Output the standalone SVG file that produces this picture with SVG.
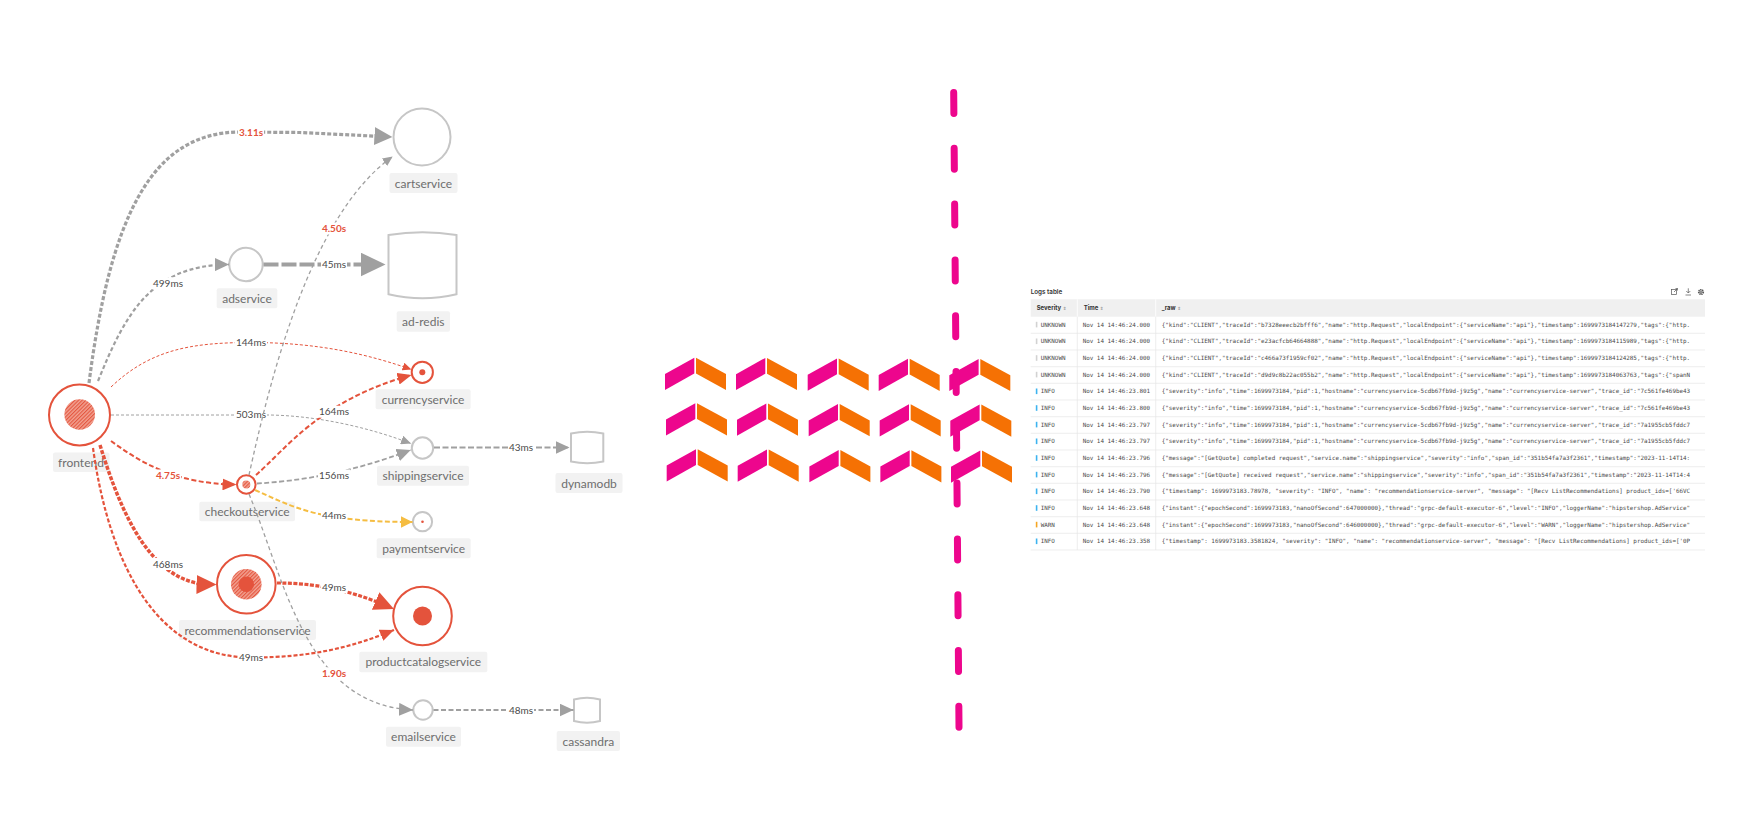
<svg xmlns="http://www.w3.org/2000/svg" width="1754" height="818" viewBox="0 0 1754 818">
<style>
.nl{font-family:Lato,"Liberation Sans",sans-serif;font-size:12px;fill:#6e6e6e;text-anchor:middle}
.nb{fill:#f2f2f2}
.gc{fill:#fff;stroke:#c6c6c6;stroke-width:2}
.rc{fill:#fff;stroke:#e4533c;stroke-width:2}
.el{font-family:Lato,"Liberation Sans",sans-serif;font-size:10px;fill:#4a4a4a;text-anchor:middle}
.er{fill:#e4533c;font-weight:700}
.lb{fill:#fff}
.e{fill:none}
.g{stroke:#a0a0a0}
.r{stroke:#e4533c}
.y{stroke:#f5bd42}
.mono{font-family:"DejaVu Sans Mono","Liberation Mono",monospace;font-size:5.9px;fill:#4a4a4a}
.hd{font-family:Inter,"Liberation Sans",sans-serif;font-size:6px;font-weight:700;fill:#333}
.srt{font-family:"DejaVu Sans",sans-serif;font-size:4.5px;fill:#999}
.rl{stroke:#e6e6e6;stroke-width:0.7}
.chm{fill:#ED068D}
.cho{fill:#F57104}
</style>
<defs>
<pattern id="hatch" width="2.6" height="2.6" patternUnits="userSpaceOnUse" patternTransform="rotate(45)">
<rect width="2.6" height="2.6" fill="#f2a393"/>
<line x1="0.6" y1="0" x2="0.6" y2="2.6" stroke="#e4533c" stroke-width="1.1"/>
</pattern>
<marker id="mGs" viewBox="0 0 10 10" refX="10" refY="5" markerWidth="10" markerHeight="9" markerUnits="userSpaceOnUse" orient="auto" preserveAspectRatio="none"><path d="M0,0L10,5L0,10Z" fill="#a0a0a0"/></marker>
<marker id="mGm" viewBox="0 0 10 10" refX="10" refY="5" markerWidth="14" markerHeight="13" markerUnits="userSpaceOnUse" orient="auto" preserveAspectRatio="none"><path d="M0,0L10,5L0,10Z" fill="#a0a0a0"/></marker>
<marker id="mGl" viewBox="0 0 10 10" refX="7" refY="5" markerWidth="18" markerHeight="18" markerUnits="userSpaceOnUse" orient="auto" preserveAspectRatio="none"><path d="M0,0L10,5L0,10Z" fill="#a0a0a0"/></marker>
<marker id="mGx" viewBox="0 0 10 10" refX="7" refY="5" markerWidth="25" markerHeight="24" markerUnits="userSpaceOnUse" orient="auto" preserveAspectRatio="none"><path d="M0,0L10,5L0,10Z" fill="#a0a0a0"/></marker>
<marker id="mRs" viewBox="0 0 10 10" refX="10" refY="5" markerWidth="9" markerHeight="8" markerUnits="userSpaceOnUse" orient="auto" preserveAspectRatio="none"><path d="M0,0L10,5L0,10Z" fill="#e4533c"/></marker>
<marker id="mRm" viewBox="0 0 10 10" refX="10" refY="5" markerWidth="14" markerHeight="12" markerUnits="userSpaceOnUse" orient="auto" preserveAspectRatio="none"><path d="M0,0L10,5L0,10Z" fill="#e4533c"/></marker>
<marker id="mRl" viewBox="0 0 10 10" refX="7" refY="5" markerWidth="20" markerHeight="19" markerUnits="userSpaceOnUse" orient="auto" preserveAspectRatio="none"><path d="M0,0L10,5L0,10Z" fill="#e4533c"/></marker>
<marker id="mYm" viewBox="0 0 10 10" refX="10" refY="5" markerWidth="12" markerHeight="12" markerUnits="userSpaceOnUse" orient="auto" preserveAspectRatio="none"><path d="M0,0L10,5L0,10Z" fill="#f5bd42"/></marker>
<clipPath id="rawclip"><rect x="1156" y="316" width="549" height="235"/></clipPath>
<path id="chev" d="M0,16.3 L29.3,0 L29.3,15.8 L0,32.2 Z"/>
</defs>

<!-- nodes -->
<g id="node-frontend">
<rect class="nb" x="53" y="452.5" width="56.5" height="19.5" rx="2"/>
<circle class="rc" cx="79.5" cy="415" r="30.5"/>
<circle cx="79.7" cy="414.5" r="15.3" fill="url(#hatch)"/>
<text class="nl" x="81" y="466.5">frontend</text>
</g>
<g id="node-cartservice">
<rect class="nb" x="389.5" y="173" width="68" height="20" rx="2"/>
<circle class="gc" cx="422" cy="137" r="28.5"/>
<text class="nl" x="423.5" y="187.5">cartservice</text>
</g>
<g id="node-adservice">
<rect class="nb" x="216.7" y="288.3" width="60.6" height="20" rx="2"/>
<circle class="gc" cx="246" cy="264.5" r="16.7"/>
<text class="nl" x="247" y="302.8">adservice</text>
</g>
<g id="node-ad-redis">
<rect class="nb" x="396.7" y="311.3" width="53.3" height="20.4" rx="2"/>
<path class="gc" d="M388.5,235 Q422.5,229.6 456.5,235 L456.5,294.3 Q422.5,302.3 388.5,294.3 Z"/>
<text class="nl" x="423.3" y="325.8">ad-redis</text>
</g>
<g id="node-currencyservice">
<rect class="nb" x="375.6" y="389.3" width="95" height="20" rx="2"/>
<circle class="rc" cx="422.3" cy="372.3" r="10.6"/>
<circle cx="422.3" cy="372.3" r="3" fill="#e4533c"/>
<text class="nl" x="423" y="403.8">currencyservice</text>
</g>
<g id="node-shippingservice">
<rect class="nb" x="377" y="465.7" width="92" height="20" rx="2"/>
<circle class="gc" cx="422.5" cy="448" r="10.7"/>
<text class="nl" x="423" y="480.2">shippingservice</text>
</g>
<g id="node-dynamodb">
<rect class="nb" x="555.5" y="473" width="67" height="20" rx="2"/>
<path class="gc" d="M571,433.5 Q587.2,430 603.3,433.5 L603.3,461.5 Q587.2,465 571,461.5 Z"/>
<text class="nl" x="589" y="487.5">dynamodb</text>
</g>
<g id="node-checkoutservice">
<rect class="nb" x="199.3" y="501.7" width="95.7" height="19.5" rx="2"/>
<circle class="rc" cx="246.3" cy="484.5" r="9.3"/>
<circle cx="246.3" cy="484.5" r="4" fill="url(#hatch)"/>
<text class="nl" x="247.2" y="516">checkoutservice</text>
</g>
<g id="node-paymentservice">
<rect class="nb" x="376.7" y="538.3" width="94" height="20" rx="2"/>
<circle class="gc" cx="422.5" cy="521.7" r="9.6"/>
<circle cx="422.5" cy="521.7" r="1.3" fill="#e4533c"/>
<text class="nl" x="423.7" y="552.8">paymentservice</text>
</g>
<g id="node-recommendationservice">
<rect class="nb" x="179" y="620" width="137" height="20" rx="2"/>
<circle class="rc" cx="246.3" cy="584.2" r="29.3"/>
<circle cx="246.3" cy="584.2" r="15.3" fill="url(#hatch)"/>
<circle cx="246.3" cy="584.2" r="7.7" fill="#e4533c"/>
<text class="nl" x="247.5" y="634.5">recommendationservice</text>
</g>
<g id="node-productcatalogservice">
<rect class="nb" x="359.3" y="651.7" width="128" height="20.6" rx="2"/>
<circle class="rc" cx="422.5" cy="616" r="29.3"/>
<circle cx="422.5" cy="616" r="9.5" fill="#e4533c"/>
<text class="nl" x="423.3" y="666.3">productcatalogservice</text>
</g>
<g id="node-emailservice">
<rect class="nb" x="386" y="726.7" width="75" height="20" rx="2"/>
<circle class="gc" cx="423" cy="710" r="9.7"/>
<text class="nl" x="423.5" y="741.2">emailservice</text>
</g>
<g id="node-cassandra">
<rect class="nb" x="556.7" y="731" width="63.3" height="20" rx="2"/>
<path class="gc" d="M574,699.5 Q587,696 600,699.5 L600,721 Q587,724.5 574,721 Z"/>
<text class="nl" x="588.3" y="745.5">cassandra</text>
</g>

<!-- connectors -->
<g id="connectors">
<g id="e-frontend-shipping">
<path class="e g" d="M111,415 L270,415 C320,416 370,428 411,443.5" stroke-width="1" stroke-dasharray="3 2" marker-end="url(#mGs)"/>
<rect class="lb" x="235" y="408.5" width="32" height="12"/><text class="el" x="251" y="418">503ms</text>
</g>
<g id="e-frontend-currency">
<path class="e r" d="M111,387 C150,350 190,342.5 251,342.5 C320,342.5 370,355 411.5,369.5" stroke-width="1" stroke-dasharray="3 2" marker-end="url(#mRs)"/>
<rect class="lb" x="235" y="336.7" width="32" height="12"/><text class="el" x="251" y="346.2">144ms</text>
</g>
<g id="e-frontend-cart">
<path class="e g" d="M89,383 C110,220 150,132 240,132 L300,132.5 L387,136.7" stroke-width="3.2" stroke-dasharray="4 2" marker-end="url(#mGl)"/>
<rect class="lb" x="238" y="126.3" width="26" height="12"/><text class="el er" x="251" y="135.8">3.11s</text>
</g>
<g id="e-frontend-adservice">
<path class="e g" d="M98,381 C125,315 150,265 229,264.5" stroke-width="2.2" stroke-dasharray="4 2.5" marker-end="url(#mGm)"/>
<rect class="lb" x="152" y="277.3" width="32" height="12"/><text class="el" x="168" y="286.8">499ms</text>
</g>
<g id="e-adservice-adredis">
<path class="e g" d="M263.5,264.5 L378,264.5" stroke-width="4" stroke-dasharray="15 3" marker-end="url(#mGx)"/>
<rect class="lb" x="321" y="258.5" width="26" height="12"/><text class="el" x="334" y="268">45ms</text>
</g>
<g id="e-checkout-cart">
<path class="e g" d="M249,475 C270,380 310,215 392.7,156.5" stroke-width="1.3" stroke-dasharray="4 3" marker-end="url(#mGs)"/>
<rect class="lb" x="321" y="222.5" width="26" height="12"/><text class="el er" x="334" y="232">4.50s</text>
</g>
<g id="e-checkout-currency">
<path class="e r" d="M256,475 C285,450 320,400 411.5,375" stroke-width="2" stroke-dasharray="5 2.5" marker-end="url(#mRm)"/>
<rect class="lb" x="318" y="405.7" width="32" height="12"/><text class="el" x="334" y="415.2">164ms</text>
</g>
<g id="e-checkout-shipping">
<path class="e g" d="M257,483.5 C300,481 350,473 410.7,450" stroke-width="1.8" stroke-dasharray="5 2.5" marker-end="url(#mGm)"/>
<rect class="lb" x="318" y="469.5" width="32" height="12"/><text class="el" x="334" y="479">156ms</text>
</g>
<g id="e-frontend-checkout">
<path class="e r" d="M111,441 C140,462 175,484 236.5,484.5" stroke-width="2" stroke-dasharray="5 2.5" marker-end="url(#mRm)"/>
<rect class="lb" x="155" y="469.5" width="26" height="12"/><text class="el er" x="168" y="479">4.75s</text>
</g>
<g id="e-checkout-payment">
<path class="e y" d="M255,490 C295,508 320,522 412.5,522" stroke-width="2" stroke-dasharray="5 2.5" marker-end="url(#mYm)"/>
<rect class="lb" x="321" y="509.5" width="26" height="12"/><text class="el" x="334" y="519">44ms</text>
</g>
<g id="e-frontend-productcatalog">
<path class="e r" d="M93,448 C110,570 160,657.5 251,657.5 C310,657.5 350,648 394,630" stroke-width="2.2" stroke-dasharray="4 2" marker-end="url(#mRm)"/>
<rect class="lb" x="238" y="651.5" width="26" height="12"/><text class="el" x="251" y="661">49ms</text>
</g>
<g id="e-frontend-recommendation">
<path class="e r" d="M100,445 C120,510 150,584 210.5,584.5" stroke-width="3.5" stroke-dasharray="4 1.5" marker-end="url(#mRl)"/>
<rect class="lb" x="152" y="558" width="32" height="12"/><text class="el" x="168" y="567.5">468ms</text>
</g>
<g id="e-recommendation-productcatalog">
<path class="e r" d="M277,583 C310,583 345,588 388.5,606.6" stroke-width="3.2" stroke-dasharray="4 1.5" marker-end="url(#mRl)"/>
<rect class="lb" x="321" y="581" width="26" height="12"/><text class="el" x="334" y="590.5">49ms</text>
</g>
<g id="e-checkout-email">
<path class="e g" d="M249,494 C285,580 305,705 413,710" stroke-width="1.3" stroke-dasharray="4 3" marker-end="url(#mGm)"/>
<rect class="lb" x="321" y="667.3" width="26" height="12"/><text class="el er" x="334" y="676.8">1.90s</text>
</g>
<g id="e-shipping-dynamodb">
<path class="e g" d="M434,447.5 L569.5,447.5" stroke-width="2.2" stroke-dasharray="6 2.5" marker-end="url(#mGm)"/>
<rect class="lb" x="508" y="441.3" width="26" height="12"/><text class="el" x="521" y="450.8">43ms</text>
</g>
<g id="e-email-cassandra">
<path class="e g" d="M433.5,710 L573.5,710" stroke-width="1.8" stroke-dasharray="5 2.5" marker-end="url(#mGm)"/>
<rect class="lb" x="508" y="704" width="26" height="12"/><text class="el" x="521" y="713.5">48ms</text>
</g>
</g>

<!-- chevrons -->
<g id="chevrons">
<g transform="translate(665,357.7)"><use href="#chev" class="chm"/><path class="cho" d="M31,0 L61,16.3 L61,32.2 L31,15.8 Z"/></g>
<g transform="translate(736,357.9)"><use href="#chev" class="chm"/><path class="cho" d="M31,0 L61,16.3 L61,32.2 L31,15.8 Z"/></g>
<g transform="translate(807.7,358.5)"><use href="#chev" class="chm"/><path class="cho" d="M31,0 L61,16.3 L61,32.2 L31,15.8 Z"/></g>
<g transform="translate(878.7,358.7)"><use href="#chev" class="chm"/><path class="cho" d="M31,0 L61,16.3 L61,32.2 L31,15.8 Z"/></g>
<g transform="translate(949.3,358.9)"><use href="#chev" class="chm"/><path class="cho" d="M31,0 L61,16.3 L61,32.2 L31,15.8 Z"/></g>
<g transform="translate(666,403.3)"><use href="#chev" class="chm"/><path class="cho" d="M31,0 L61,16.3 L61,32.2 L31,15.8 Z"/></g>
<g transform="translate(737,403.5)"><use href="#chev" class="chm"/><path class="cho" d="M31,0 L61,16.3 L61,32.2 L31,15.8 Z"/></g>
<g transform="translate(808.7,404.1)"><use href="#chev" class="chm"/><path class="cho" d="M31,0 L61,16.3 L61,32.2 L31,15.8 Z"/></g>
<g transform="translate(879.7,404.3)"><use href="#chev" class="chm"/><path class="cho" d="M31,0 L61,16.3 L61,32.2 L31,15.8 Z"/></g>
<g transform="translate(950.3,404.5)"><use href="#chev" class="chm"/><path class="cho" d="M31,0 L61,16.3 L61,32.2 L31,15.8 Z"/></g>
<g transform="translate(666.7,449.3)"><use href="#chev" class="chm"/><path class="cho" d="M31,0 L61,16.3 L61,32.2 L31,15.8 Z"/></g>
<g transform="translate(737.7,449.5)"><use href="#chev" class="chm"/><path class="cho" d="M31,0 L61,16.3 L61,32.2 L31,15.8 Z"/></g>
<g transform="translate(809.4,450.1)"><use href="#chev" class="chm"/><path class="cho" d="M31,0 L61,16.3 L61,32.2 L31,15.8 Z"/></g>
<g transform="translate(880.4,450.3)"><use href="#chev" class="chm"/><path class="cho" d="M31,0 L61,16.3 L61,32.2 L31,15.8 Z"/></g>
<g transform="translate(951,450.5)"><use href="#chev" class="chm"/><path class="cho" d="M31,0 L61,16.3 L61,32.2 L31,15.8 Z"/></g>
</g>

<!-- divider -->
<path id="divider" d="M953.7,92.5 L959,727.3" fill="none" stroke="#ED068D" stroke-width="7" stroke-linecap="round" stroke-dasharray="21 34.8"/>

<!-- logs table -->
<g id="logs-table">
<text x="1030.7" y="293.8" font-family="Inter,'Liberation Sans',sans-serif" font-size="6.3" font-weight="600" fill="#333">Logs table</text>
<g fill="none" stroke="#555" stroke-width="0.7">
<rect x="1671.5" y="289.5" width="5" height="5"/>
<path d="M1674,292 L1677.5,288.5 M1675.5,288.5 L1677.5,288.5 L1677.5,290.5"/>
<path d="M1688.3,288.3 L1688.3,293 M1686.3,291 L1688.3,293 L1690.3,291 M1685.5,295 L1691,295"/>
</g>
<circle cx="1701" cy="292" r="2.3" fill="none" stroke="#555" stroke-width="1.6" stroke-dasharray="1.2 0.6"/>
<circle cx="1701" cy="292" r="1.6" fill="#555"/>
<circle cx="1701" cy="292" r="0.7" fill="#fff"/>
<rect x="1030.7" y="299.3" width="674.3" height="17.4" fill="#f0f0f0"/>
<line x1="1077.3" y1="299.3" x2="1077.3" y2="316.7" stroke="#fff" stroke-width="0.8"/>
<line x1="1155.7" y1="299.3" x2="1155.7" y2="316.7" stroke="#fff" stroke-width="0.8"/>
<text class="hd" x="1036.7" y="310.2">Severity <tspan class="srt">⇕</tspan></text>
<text class="hd" x="1083.7" y="310.2">Time <tspan class="srt">⇕</tspan></text>
<text class="hd" x="1161.7" y="310.2">_raw <tspan class="srt">⇕</tspan></text>
<g id="row-lines">
<line class="rl" x1="1030.7" y1="333.3" x2="1705" y2="333.3"/>
<line class="rl" x1="1030.7" y1="350" x2="1705" y2="350"/>
<line class="rl" x1="1030.7" y1="366.7" x2="1705" y2="366.7"/>
<line class="rl" x1="1030.7" y1="383.3" x2="1705" y2="383.3"/>
<line class="rl" x1="1030.7" y1="400" x2="1705" y2="400"/>
<line class="rl" x1="1030.7" y1="416.7" x2="1705" y2="416.7"/>
<line class="rl" x1="1030.7" y1="433.3" x2="1705" y2="433.3"/>
<line class="rl" x1="1030.7" y1="450" x2="1705" y2="450"/>
<line class="rl" x1="1030.7" y1="466.7" x2="1705" y2="466.7"/>
<line class="rl" x1="1030.7" y1="483.3" x2="1705" y2="483.3"/>
<line class="rl" x1="1030.7" y1="500" x2="1705" y2="500"/>
<line class="rl" x1="1030.7" y1="516.7" x2="1705" y2="516.7"/>
<line class="rl" x1="1030.7" y1="533.3" x2="1705" y2="533.3"/>
<line class="rl" x1="1030.7" y1="550" x2="1705" y2="550"/>
<line class="rl" x1="1077.3" y1="316.7" x2="1077.3" y2="550"/>
<line class="rl" x1="1155.7" y1="316.7" x2="1155.7" y2="550"/>
</g>
<g id="sev-bars">
<rect x="1035.8" y="321.8" width="1.6" height="5.6" fill="#d2d2d2"/>
<rect x="1035.8" y="338.5" width="1.6" height="5.6" fill="#d2d2d2"/>
<rect x="1035.8" y="355.2" width="1.6" height="5.6" fill="#d2d2d2"/>
<rect x="1035.8" y="371.8" width="1.6" height="5.6" fill="#d2d2d2"/>
<rect x="1035.8" y="388.5" width="1.6" height="5.6" fill="#3db3ef"/>
<rect x="1035.8" y="405.2" width="1.6" height="5.6" fill="#3db3ef"/>
<rect x="1035.8" y="421.8" width="1.6" height="5.6" fill="#3db3ef"/>
<rect x="1035.8" y="438.5" width="1.6" height="5.6" fill="#3db3ef"/>
<rect x="1035.8" y="455.2" width="1.6" height="5.6" fill="#3db3ef"/>
<rect x="1035.8" y="471.8" width="1.6" height="5.6" fill="#3db3ef"/>
<rect x="1035.8" y="488.5" width="1.6" height="5.6" fill="#3db3ef"/>
<rect x="1035.8" y="505.2" width="1.6" height="5.6" fill="#3db3ef"/>
<rect x="1035.8" y="521.8" width="1.6" height="5.6" fill="#f5a623"/>
<rect x="1035.8" y="538.5" width="1.6" height="5.6" fill="#3db3ef"/>
</g>
<g id="sev-text" class="mono">
<text x="1040.7" y="326.5">UNKNOWN</text>
<text x="1040.7" y="343.2">UNKNOWN</text>
<text x="1040.7" y="359.9">UNKNOWN</text>
<text x="1040.7" y="376.5">UNKNOWN</text>
<text x="1040.7" y="393.2">INFO</text>
<text x="1040.7" y="409.9">INFO</text>
<text x="1040.7" y="426.5">INFO</text>
<text x="1040.7" y="443.2">INFO</text>
<text x="1040.7" y="459.9">INFO</text>
<text x="1040.7" y="476.5">INFO</text>
<text x="1040.7" y="493.2">INFO</text>
<text x="1040.7" y="509.9">INFO</text>
<text x="1040.7" y="526.5">WARN</text>
<text x="1040.7" y="543.2">INFO</text>
</g>
<g id="time-text" class="mono">
<text x="1082.7" y="326.5">Nov 14 14:46:24.000</text>
<text x="1082.7" y="343.2">Nov 14 14:46:24.000</text>
<text x="1082.7" y="359.9">Nov 14 14:46:24.000</text>
<text x="1082.7" y="376.5">Nov 14 14:46:24.000</text>
<text x="1082.7" y="393.2">Nov 14 14:46:23.801</text>
<text x="1082.7" y="409.9">Nov 14 14:46:23.800</text>
<text x="1082.7" y="426.5">Nov 14 14:46:23.797</text>
<text x="1082.7" y="443.2">Nov 14 14:46:23.797</text>
<text x="1082.7" y="459.9">Nov 14 14:46:23.796</text>
<text x="1082.7" y="476.5">Nov 14 14:46:23.796</text>
<text x="1082.7" y="493.2">Nov 14 14:46:23.790</text>
<text x="1082.7" y="509.9">Nov 14 14:46:23.648</text>
<text x="1082.7" y="526.5">Nov 14 14:46:23.648</text>
<text x="1082.7" y="543.2">Nov 14 14:46:23.358</text>
</g>
<g id="raw-text" class="mono" clip-path="url(#rawclip)">
<text x="1161.7" y="326.5">{"kind":"CLIENT","traceId":"b7328eeecb2bfff6","name":"http.Request","localEndpoint":{"serviceName":"api"},"timestamp":1699973184147279,"tags":{"http.</text>
<text x="1161.7" y="343.2">{"kind":"CLIENT","traceId":"e23acfcb64664888","name":"http.Request","localEndpoint":{"serviceName":"api"},"timestamp":1699973184115989,"tags":{"http.</text>
<text x="1161.7" y="359.9">{"kind":"CLIENT","traceId":"c466a73f1959cf02","name":"http.Request","localEndpoint":{"serviceName":"api"},"timestamp":1699973184124285,"tags":{"http.</text>
<text x="1161.7" y="376.5">{"kind":"CLIENT","traceId":"d9d9c8b22ac055b2","name":"http.Request","localEndpoint":{"serviceName":"api"},"timestamp":1699973184063763,"tags":{"spanN</text>
<text x="1161.7" y="393.2">{"severity":"info","time":1699973184,"pid":1,"hostname":"currencyservice-5cdb67fb9d-j9z5g","name":"currencyservice-server","trace_id":"7c561fe469be43</text>
<text x="1161.7" y="409.9">{"severity":"info","time":1699973184,"pid":1,"hostname":"currencyservice-5cdb67fb9d-j9z5g","name":"currencyservice-server","trace_id":"7c561fe469be43</text>
<text x="1161.7" y="426.5">{"severity":"info","time":1699973184,"pid":1,"hostname":"currencyservice-5cdb67fb9d-j9z5g","name":"currencyservice-server","trace_id":"7a1955cb5fddc7</text>
<text x="1161.7" y="443.2">{"severity":"info","time":1699973184,"pid":1,"hostname":"currencyservice-5cdb67fb9d-j9z5g","name":"currencyservice-server","trace_id":"7a1955cb5fddc7</text>
<text x="1161.7" y="459.9">{"message":"[GetQuote] completed request","service.name":"shippingservice","severity":"info","span_id":"351b54fa7a3f2361","timestamp":"2023-11-14T14:</text>
<text x="1161.7" y="476.5">{"message":"[GetQuote] received request","service.name":"shippingservice","severity":"info","span_id":"351b54fa7a3f2361","timestamp":"2023-11-14T14:4</text>
<text x="1161.7" y="493.2">{"timestamp": 1699973183.78978, "severity": "INFO", "name": "recommendationservice-server", "message": "[Recv ListRecommendations] product_ids=['66VC</text>
<text x="1161.7" y="509.9">{"instant":{"epochSecond":1699973183,"nanoOfSecond":647000000},"thread":"grpc-default-executor-6","level":"INFO","loggerName":"hipstershop.AdService"</text>
<text x="1161.7" y="526.5">{"instant":{"epochSecond":1699973183,"nanoOfSecond":646000000},"thread":"grpc-default-executor-6","level":"WARN","loggerName":"hipstershop.AdService"</text>
<text x="1161.7" y="543.2">{"timestamp": 1699973183.3581824, "severity": "INFO", "name": "recommendationservice-server", "message": "[Recv ListRecommendations] product_ids=['0P</text>
</g>
</g>
</svg>
